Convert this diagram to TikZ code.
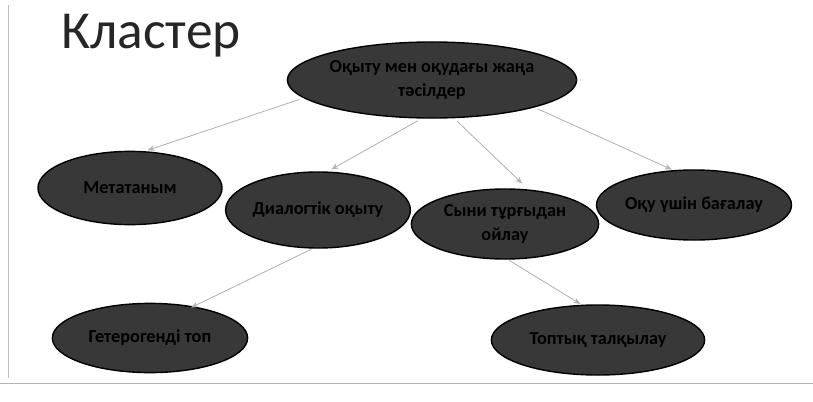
\documentclass[tikz,border=0pt]{standalone}
\usepackage{fontspec}
\setmainfont{Carlito}
\usetikzlibrary{shapes.geometric,arrows.meta}
\begin{document}
\begin{tikzpicture}[x=0.025cm,y=-0.025cm,
  bubble/.style={ellipse, draw=black, line width=1pt, fill=black!78, inner sep=0pt, align=center, text=black, font=\bfseries\fontsize{13}{17}\selectfont},
  link/.style={-{Stealth[length=5pt,width=4pt]}, draw=black!30, line width=0.6pt}]
\useasboundingbox (0,0) rectangle (813,401);
% slide frame
\draw[black!25, line width=0.5pt] (8,5) -- (8,378);
\draw[black!30, line width=0.6pt] (0,383) -- (813,383);
\node[font=\fontsize{38}{40}\selectfont, text=black!85] (title) at (151,36) {Кластер};
% top
\node[bubble, minimum width=6.38cm, minimum height=1.9cm] (top) at (432,80) {Оқыту мен оқудағы жаңа\\тәсілдер};
% second row
\node[bubble, minimum width=4.6cm, minimum height=1.83cm] (meta) at (130,188) {Метатаным};
\node[bubble, minimum width=4.5cm, minimum height=1.9cm] (dial) at (318,210) {Диалогтік оқыту};
\node[bubble, minimum width=4.68cm, minimum height=1.75cm] (crit) at (505,224) {Сыни тұрғыдан\\ойлау};
\node[bubble, minimum width=4.55cm, minimum height=1.75cm] (assess) at (694,205) {Оқу үшін бағалау};
% bottom row
\node[bubble, minimum width=4.88cm, minimum height=1.73cm] (hetero) at (150,338) {Гетерогенді топ};
\node[bubble, minimum width=5.33cm, minimum height=1.75cm] (group) at (598,340) {Топтық талқылау};
\draw[link, shorten <=3pt, shorten >=2pt] (top.188) -- (meta.68);
\draw[link, shorten <=3pt, shorten >=3pt] (top.255) -- (dial.76);
\draw[link, shorten <=3pt, shorten >=6pt] (top.300) -- (crit.56);
\draw[link, shorten <=3pt, shorten >=1pt] (top.345) -- (assess.121);
\draw[link, shorten <=1pt, shorten >=-2pt] (dial.262) -- (hetero.36);
\draw[link, shorten <=1pt, shorten >=1pt] (crit.275) -- (group.115);
\end{tikzpicture}
\end{document}
